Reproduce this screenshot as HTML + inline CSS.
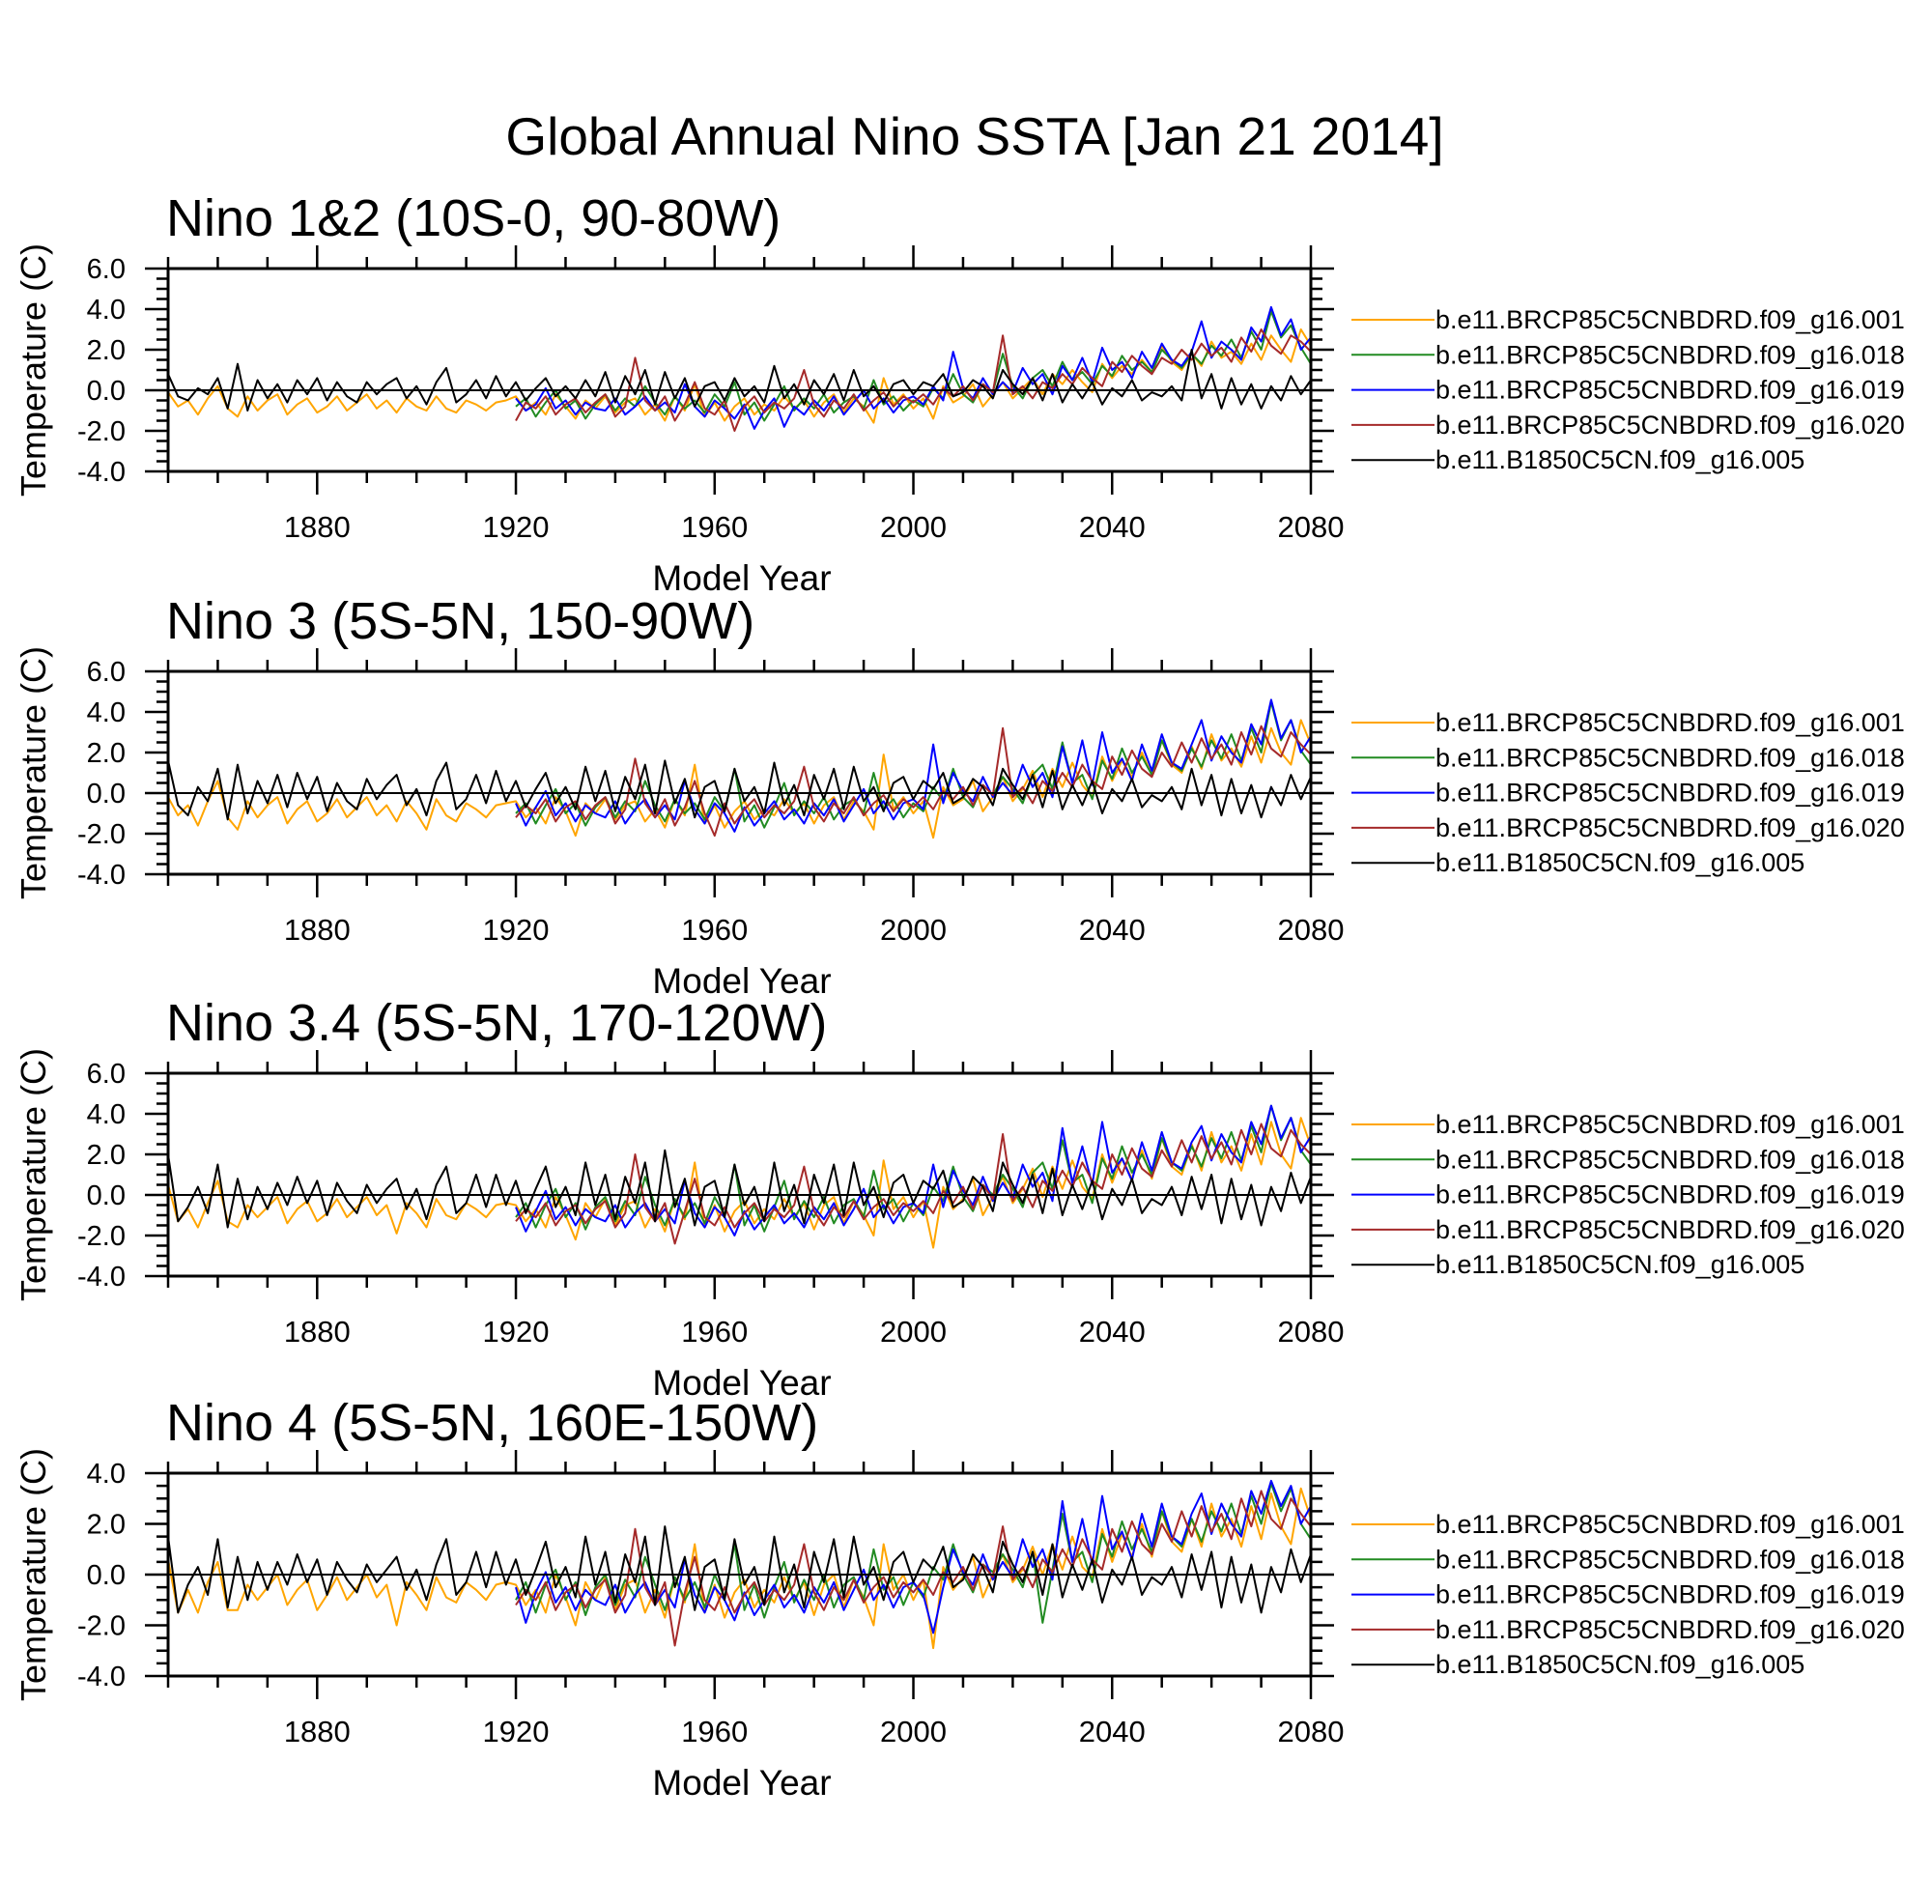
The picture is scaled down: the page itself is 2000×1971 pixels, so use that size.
<!DOCTYPE html>
<html><head><meta charset="utf-8"><style>
html,body{margin:0;padding:0;background:#fff;}
svg{display:block;font-family:"Liberation Sans",sans-serif;}
</style></head><body>
<svg id="chart" width="2000" height="1971" viewBox="0 0 2000 1971" xmlns="http://www.w3.org/2000/svg">
<text x="1009" y="160" font-size="55" text-anchor="middle">Global Annual Nino SSTA [Jan 21 2014]</text>
</svg>
<script>
const years = [1850, 2080];
const stepYears = 2;
const rcpStart = 1920;
const seriesNames = ["b.e11.BRCP85C5CNBDRD.f09_g16.001","b.e11.BRCP85C5CNBDRD.f09_g16.018","b.e11.BRCP85C5CNBDRD.f09_g16.019","b.e11.BRCP85C5CNBDRD.f09_g16.020","b.e11.B1850C5CN.f09_g16.005"];
const seriesColors = ["#ffa500","#228b22","#0000ff","#a52a2a","#000000"];
const panelTitles = ["Nino 1&2 (10S-0, 90-80W)","Nino 3 (5S-5N, 150-90W)","Nino 3.4 (5S-5N, 170-120W)","Nino 4 (5S-5N, 160E-150W)"];
const panelYRanges = [[-4,6],[-4,6],[-4,6],[-4,4]];
const xTickLabels = [1880,1920,1960,2000,2040,2080];

// Panel 1: Nino 1&2
const p1Orange = [-0.1,-0.8,-0.5,-1.2,-0.4,0.2,-0.9,-1.3,-0.3,-1.0,-0.5,-0.2,-1.2,-0.7,-0.4,-1.1,-0.8,-0.3,-1.0,-0.6,-0.2,-0.9,-0.5,-1.1,-0.4,-0.8,-1.0,-0.3,-0.9,-1.1,-0.5,-0.7,-1.0,-0.6,-0.5,
-0.3,-1.0,-0.6,-1.2,-0.2,-0.8,-1.4,-0.5,-0.9,-0.3,-1.1,-0.6,-0.4,-1.2,-0.7,-1.5,-0.3,-1.0,0.3,-1.3,-0.6,-1.5,-0.8,-0.4,-1.2,-0.7,-1.0,-0.3,-0.9,-0.5,-1.3,-0.6,-0.2,-1.1,-0.4,-0.8,-1.6,0.6,-0.7,-0.2,-0.9,
-0.4,-1.4,0.2,-0.6,-0.3,0.3,-0.8,-0.2,0.4,-0.4,0.1,0.6,-0.2,0.8,0.3,1.0,0.4,-0.1,1.3,0.6,1.2,0.8,1.5,0.9,2.2,1.4,1.0,1.8,1.2,2.4,1.6,1.9,1.3,2.3,1.5,2.7,2.0,1.4,3.0,2.2];
const p1Green = [-0.8,-0.4,-1.3,-0.6,0.0,-0.9,-0.5,-1.4,-0.7,-0.2,-1.0,-0.4,-0.8,0.2,-0.6,-1.2,-0.3,-0.9,-0.5,-1.1,-0.2,-0.8,0.4,-1.2,-0.6,-1.5,-0.7,0.2,-1.0,-0.4,-0.9,-0.2,-1.1,-0.6,-0.3,-0.9,0.5,-0.7,-0.3,-1.0,
-0.5,-0.8,0.1,-0.4,0.8,-0.2,-0.6,0.3,-0.1,1.8,0.2,-0.4,0.6,1.0,0.2,1.4,0.5,0.9,0.3,1.2,0.7,1.7,1.0,1.4,0.9,2.0,1.5,1.1,1.8,1.3,2.2,1.7,2.5,1.6,2.9,2.0,3.9,2.6,3.2,2.1,1.3];
const p1Blue = [-0.4,-1.0,-0.7,0.1,-0.9,-0.5,-1.2,-0.6,-0.9,-1.0,-0.4,-1.2,-0.8,-0.3,-1.0,-0.6,-1.1,0.3,-0.8,-1.3,-0.5,-0.9,-1.4,-0.7,-1.9,-1.0,-0.4,-1.8,-0.8,-1.2,-0.5,-1.0,-0.3,-1.2,-0.6,0.0,-0.9,-0.4,-1.1,-0.5,
-0.3,-0.7,0.2,-0.5,1.9,0.1,-0.4,0.6,-0.2,0.4,-0.1,1.1,0.3,0.8,-0.2,1.2,0.5,1.6,0.4,2.1,1.0,1.4,0.6,1.9,1.1,2.3,1.5,1.2,1.9,3.4,1.6,2.4,2.0,1.5,3.1,2.4,4.1,2.7,3.5,2.0,2.6];
const p1Red = [-1.5,-0.6,-0.9,-0.3,-1.2,-0.7,-0.4,-1.1,-0.6,-0.2,-1.3,-0.8,1.6,-0.5,-1.0,-0.3,-1.5,-0.7,0.4,-0.9,-1.2,-0.5,-2.0,-0.8,-0.3,-1.1,-0.6,-0.9,-0.4,1.0,-0.7,-1.3,-0.5,-0.9,-0.2,-1.0,-0.5,-0.1,-0.8,-0.3,
-0.6,-0.2,-0.7,0.1,-0.3,0.2,-0.5,0.3,-0.1,2.7,-0.2,0.2,-0.4,0.4,0.1,0.8,0.3,1.1,0.6,0.2,1.4,0.9,1.7,1.2,0.8,1.6,1.3,2.0,1.5,2.3,1.7,2.1,1.4,2.6,1.9,3.0,2.2,1.8,2.7,2.4,1.9];
const p1Black = [0.8,-0.3,-0.5,0.1,-0.2,0.6,-0.9,1.3,-1.0,0.5,-0.4,0.3,-0.6,0.5,-0.2,0.6,-0.5,0.4,-0.3,-0.6,0.4,-0.2,0.3,0.6,-0.4,0.2,-0.7,0.4,1.1,-0.6,-0.2,0.5,-0.4,0.7,-0.3,0.4,-0.5,0.1,0.6,-0.3,
0.2,-0.4,0.5,-0.3,0.9,-0.6,0.7,-0.2,1.0,-0.7,0.9,-0.4,0.6,-0.8,0.2,0.4,-0.5,0.6,-0.3,0.2,-0.6,1.2,-0.4,0.3,-0.7,0.5,-0.2,0.8,-0.5,1.0,-0.3,0.2,-0.6,0.3,0.5,-0.2,0.4,0.2,0.8,-0.3,
-0.1,0.5,0.2,-0.4,1.0,0.3,-0.2,0.6,-0.5,0.8,-0.6,0.3,-0.4,0.4,-0.7,0.1,-0.3,0.5,-0.5,-0.1,-0.3,0.2,-0.5,2.0,-0.4,0.8,-0.9,0.6,-0.7,0.3,-0.9,0.2,-0.5,0.7,-0.2,0.5];

// Panel 2: Nino 3
const p2Orange = [-0.2,-1.1,-0.6,-1.6,-0.4,0.6,-1.2,-1.8,-0.4,-1.2,-0.6,-0.2,-1.5,-0.8,-0.4,-1.4,-1.0,-0.3,-1.2,-0.7,-0.2,-1.1,-0.6,-1.4,-0.4,-1.0,-1.8,-0.3,-1.1,-1.4,-0.5,-0.8,-1.2,-0.6,-0.5,
-0.4,-1.2,-0.7,-1.5,-0.2,-0.9,-2.1,-0.5,-1.0,-0.3,-1.3,-0.6,-0.4,-1.4,-0.8,-1.7,-0.3,-1.1,1.4,-1.5,-0.6,-1.7,-0.9,-0.4,-1.3,-0.8,-1.1,-0.3,-1.0,-0.5,-1.5,-0.6,-0.2,-1.3,-0.4,-0.9,-1.8,1.9,-0.8,-0.2,-1.0,
-0.4,-2.2,0.3,-0.6,-0.3,0.6,-0.9,-0.2,0.8,-0.4,0.2,1.1,-0.2,1.2,0.3,1.5,0.4,-0.2,1.8,0.6,1.6,0.8,2.0,0.9,2.6,1.4,1.0,2.3,1.2,2.9,1.6,2.2,1.3,2.8,1.5,3.2,2.0,1.4,3.6,2.4];
const p2Green = [-1.0,-0.5,-1.5,-0.6,0.2,-1.0,-0.5,-1.6,-0.7,-0.2,-1.2,-0.4,-0.9,0.6,-0.6,-1.4,-0.3,-1.0,-0.5,-1.3,-0.2,-0.9,1.2,-1.4,-0.6,-1.7,-0.7,0.5,-1.1,-0.4,-1.0,-0.2,-1.3,-0.6,-0.3,-1.0,1.0,-0.8,-0.3,-1.2,
-0.5,-0.9,0.3,-0.4,1.2,-0.2,-0.7,0.4,-0.1,0.8,0.2,-0.5,0.9,1.4,0.2,2.5,0.5,0.9,-0.3,1.6,0.7,2.2,1.0,1.8,0.9,2.6,1.5,1.1,2.2,1.3,2.6,1.7,2.9,1.6,3.2,2.0,4.5,2.6,3.6,2.1,1.4];
const p2Blue = [-0.5,-1.6,-0.7,0.1,-1.1,-0.5,-1.4,-0.6,-1.0,-1.2,-0.4,-1.5,-0.8,-0.3,-1.2,-0.6,-1.3,0.6,-0.8,-1.5,-0.5,-1.0,-1.9,-0.7,-1.6,-1.0,-0.4,-1.3,-0.8,-1.5,-0.5,-1.1,-0.3,-1.4,-0.6,0.2,-1.0,-0.4,-1.3,-0.5,
-0.3,-0.8,2.4,-0.5,1.0,0.1,-0.4,0.8,-0.2,0.5,-0.1,1.4,0.3,1.0,-0.2,2.3,0.5,2.6,0.4,3.0,1.0,1.7,0.6,2.4,1.1,2.9,1.5,1.2,2.4,3.6,1.6,2.8,2.0,1.5,3.4,2.4,4.6,2.7,3.6,2.0,2.8];
const p2Red = [-1.2,-0.6,-1.0,-0.3,-1.4,-0.7,-0.4,-1.3,-0.6,-0.2,-1.5,-0.8,1.7,-0.5,-1.2,-0.3,-1.6,-0.7,0.6,-1.0,-2.1,-0.5,-1.5,-0.8,-0.3,-1.2,-0.6,-1.0,-0.4,1.3,-0.7,-1.4,-0.5,-1.0,-0.2,-1.1,-0.5,-0.1,-0.9,-0.3,
-0.7,-0.2,-0.8,0.1,-0.3,0.3,-0.6,0.4,-0.1,3.2,-0.2,0.3,-0.5,0.6,0.1,1.0,0.3,1.4,0.6,0.2,1.8,0.9,2.1,1.2,0.8,2.0,1.3,2.5,1.5,2.7,1.7,2.4,1.4,3.0,1.9,3.3,2.2,1.8,3.0,2.4,1.9];
const p2Black = [1.6,-0.6,-1.1,0.3,-0.4,1.2,-1.3,1.4,-1.0,0.6,-0.5,0.9,-0.7,1.0,-0.3,0.8,-0.9,0.5,-0.4,-0.8,0.7,-0.3,0.4,0.9,-0.6,0.2,-1.1,0.6,1.5,-0.8,-0.3,0.9,-0.5,1.1,-0.4,0.6,-0.7,0.2,1.0,-0.5,
0.3,-0.8,1.3,-0.4,1.1,-0.9,0.8,-0.3,1.4,-1.0,1.6,-0.5,0.7,-1.2,0.3,0.6,-0.9,1.2,-0.4,0.3,-1.0,1.5,-0.6,0.4,-1.1,0.9,-0.3,1.2,-0.8,1.3,-0.4,0.3,-0.9,0.5,0.8,-0.3,0.6,0.2,1.0,-0.5,
-0.2,0.7,0.3,-0.6,1.2,0.4,-0.3,0.9,-0.7,1.1,-0.8,0.4,-0.6,0.6,-1.0,0.2,-0.4,0.7,-0.7,-0.1,-0.4,0.3,-0.8,1.2,-0.6,0.9,-1.1,0.7,-1.0,0.4,-1.2,0.3,-0.6,0.9,-0.3,0.8];

// Panel 3: Nino 3.4
const p3Orange = [0.5,-1.3,-0.7,-1.6,-0.4,0.7,-1.3,-1.6,-0.5,-1.1,-0.6,-0.1,-1.4,-0.7,-0.3,-1.3,-0.9,-0.2,-1.1,-0.6,-0.1,-1.0,-0.5,-1.9,-0.4,-0.9,-1.6,-0.2,-1.0,-1.2,-0.4,-0.7,-1.1,-0.5,-0.4,
-0.5,-1.3,-0.7,-1.6,-0.1,-1.0,-2.2,-0.4,-1.1,-0.2,-1.5,-0.5,-0.3,-1.6,-0.7,-1.8,-0.2,-1.2,1.6,-1.6,-0.5,-1.8,-0.8,-0.3,-1.4,-0.7,-1.2,-0.2,-1.1,-0.4,-1.7,-0.5,-0.1,-1.4,-0.3,-1.0,-2.0,1.7,-0.7,-0.1,-1.1,
-0.3,-2.6,0.4,-0.7,-0.2,0.8,-1.0,-0.1,0.9,-0.4,0.3,1.3,-0.1,1.4,0.3,1.7,0.4,-0.2,2.0,0.6,1.8,0.8,2.2,0.8,2.8,1.4,1.0,2.5,1.2,3.1,1.6,2.4,1.2,3.0,1.5,3.6,2.0,1.3,3.8,2.4];
const p3Green = [-1.1,-0.4,-1.6,-0.5,0.3,-1.1,-0.4,-1.7,-0.6,-0.1,-1.3,-0.3,-1.0,0.9,-0.5,-1.5,-0.2,-1.1,-0.4,-1.4,-0.1,-1.0,1.5,-1.5,-0.5,-1.8,-0.6,0.7,-1.2,-0.3,-1.1,-0.1,-1.4,-0.5,-0.2,-1.1,1.2,-0.7,-0.2,-1.3,
-0.4,-1.0,0.4,-0.3,1.4,-0.1,-0.8,0.5,0.0,1.0,0.3,-0.6,1.1,1.6,0.3,2.7,0.6,1.0,-0.4,1.8,0.8,2.4,1.1,2.0,1.0,2.8,1.6,1.2,2.4,1.4,2.8,1.8,3.1,1.7,3.4,2.1,4.4,2.7,3.8,2.2,1.5];
const p3Blue = [-0.6,-1.8,-0.8,0.2,-1.2,-0.6,-1.5,-0.7,-1.1,-1.3,-0.5,-1.6,-0.9,-0.4,-1.3,-0.7,-1.4,0.7,-0.9,-1.6,-0.6,-1.1,-2.0,-0.8,-1.7,-1.1,-0.5,-1.4,-0.9,-1.6,-0.6,-1.2,-0.4,-1.5,-0.7,0.3,-1.1,-0.5,-1.4,-0.6,
-0.4,-0.9,1.5,-0.6,1.2,0.2,-0.5,0.9,-0.3,0.6,-0.2,1.5,0.4,1.1,-0.3,3.3,0.6,2.4,0.5,3.6,1.1,1.8,0.7,2.6,1.2,3.1,1.6,1.3,2.6,3.4,1.7,3.0,2.1,1.6,3.6,2.5,4.4,2.8,3.8,2.1,2.9];
const p3Red = [-1.3,-0.7,-1.1,-0.4,-1.5,-0.8,-0.5,-1.4,-0.7,-0.3,-1.6,-0.9,2.0,-0.6,-1.3,-0.4,-2.4,-0.8,0.8,-1.1,-1.5,-0.6,-1.6,-0.9,-0.4,-1.3,-0.7,-1.1,-0.5,1.4,-0.8,-1.5,-0.6,-1.1,-0.3,-1.2,-0.6,-0.2,-1.0,-0.4,
-0.8,-0.3,-0.9,0.2,-0.4,0.4,-0.7,0.5,-0.2,3.0,-0.3,0.4,-0.6,0.7,0.2,1.2,0.4,1.6,0.7,0.3,2.0,1.0,2.3,1.3,0.9,2.2,1.4,2.7,1.6,2.9,1.8,2.6,1.5,3.2,2.0,3.5,2.3,1.9,3.2,2.5,2.0];
const p3Black = [2.0,-1.3,-0.6,0.4,-0.9,1.5,-1.6,0.8,-1.2,0.4,-0.7,0.6,-0.5,0.9,-0.4,0.7,-1.0,0.6,-0.3,-0.9,0.5,-0.4,0.3,0.8,-0.7,0.3,-1.2,0.5,1.4,-0.9,-0.4,1.0,-0.6,1.0,-0.5,0.7,-0.9,0.3,1.4,-0.6,
0.4,-1.0,1.6,-0.5,1.0,-1.2,0.9,-0.4,1.6,-1.3,2.2,-0.6,0.8,-1.5,0.4,0.7,-1.1,1.5,-0.5,0.4,-1.3,1.6,-0.8,0.5,-1.4,1.0,-0.4,1.5,-1.0,1.6,-0.5,0.4,-1.1,0.6,1.0,-0.4,0.7,0.3,1.2,-0.6,
-0.3,0.9,0.4,-0.8,1.6,0.5,-0.4,1.0,-0.9,1.3,-1.0,0.5,-0.7,0.7,-1.2,0.3,-0.5,0.8,-0.9,-0.2,-0.5,0.4,-1.0,0.9,-0.7,1.0,-1.4,0.8,-1.2,0.5,-1.5,0.4,-0.8,1.1,-0.4,0.9];

// Panel 4: Nino 4
const p4Orange = [0.6,-1.5,-0.6,-1.5,-0.3,0.5,-1.4,-1.4,-0.4,-1.0,-0.5,0.0,-1.2,-0.6,-0.2,-1.4,-0.8,-0.1,-1.0,-0.5,0.0,-0.9,-0.4,-2.0,-0.3,-0.8,-1.4,-0.1,-0.9,-1.1,-0.3,-0.6,-1.0,-0.4,-0.3,
-0.4,-1.2,-0.6,-1.5,0.0,-0.9,-2.0,-0.3,-1.0,-0.1,-1.4,-0.4,-0.2,-1.5,-0.6,-1.7,-0.1,-1.1,1.2,-1.5,-0.4,-1.7,-0.7,-0.2,-1.3,-0.6,-1.1,-0.1,-1.0,-0.3,-1.6,-0.4,0.0,-1.3,-0.2,-0.9,-2.0,1.2,-0.6,0.0,-1.0,
-0.2,-2.9,0.3,-0.6,-0.1,0.7,-0.9,0.0,0.8,-0.3,0.2,1.1,0.0,1.2,0.2,1.5,0.3,-0.1,1.8,0.5,1.6,0.7,2.0,0.7,2.5,1.3,0.9,2.2,1.1,2.8,1.5,2.2,1.1,2.7,1.4,3.2,1.9,1.2,3.4,2.2];
const p4Green = [-1.0,-0.3,-1.5,-0.4,0.2,-1.0,-0.3,-1.6,-0.5,0.0,-1.2,-0.2,-0.9,0.7,-0.4,-1.4,-0.1,-1.0,-0.3,-1.3,0.0,-0.9,1.2,-1.4,-0.4,-1.7,-0.5,0.5,-1.1,-0.2,-1.0,0.0,-1.3,-0.4,-0.1,-1.0,1.0,-0.6,-0.1,-1.2,
-0.3,-0.9,0.3,-0.2,1.2,0.0,-0.7,0.4,0.1,0.8,0.2,-0.5,0.9,-1.9,0.2,2.4,0.5,0.9,-0.3,1.6,0.7,2.1,1.0,1.8,0.9,2.5,1.5,1.1,2.2,1.3,2.5,1.7,2.8,1.6,3.1,2.0,3.6,2.5,3.4,2.0,1.4];
const p4Blue = [-0.5,-1.9,-0.7,0.1,-1.1,-0.5,-1.4,-0.6,-1.0,-1.2,-0.4,-1.5,-0.8,-0.3,-1.2,-0.6,-1.3,0.6,-0.8,-1.5,-0.5,-1.0,-1.8,-0.7,-1.6,-1.0,-0.4,-1.3,-0.8,-1.5,-0.5,-1.1,-0.3,-1.4,-0.6,0.2,-1.0,-0.4,-1.3,-0.5,
-0.3,-0.8,-2.3,-0.5,1.0,0.1,-0.4,0.8,-0.2,0.5,-0.1,1.4,0.3,1.0,-0.2,2.9,0.5,2.2,0.4,3.1,1.0,1.7,0.6,2.4,1.1,2.8,1.5,1.2,2.4,3.2,1.6,2.8,2.0,1.5,3.3,2.4,3.7,2.7,3.5,2.0,2.7];
const p4Red = [-1.2,-0.6,-1.0,-0.3,-1.4,-0.7,-0.4,-1.3,-0.6,-0.2,-1.5,-0.8,1.8,-0.5,-1.2,-0.3,-2.8,-0.7,0.7,-1.0,-1.4,-0.5,-1.5,-0.8,-0.3,-1.2,-0.6,-1.0,-0.4,1.2,-0.7,-1.4,-0.5,-1.0,-0.2,-1.1,-0.5,-0.1,-0.9,-0.3,
-0.7,-0.2,-0.8,0.1,-0.3,0.3,-0.6,0.4,-0.1,1.9,-0.2,0.3,-0.5,0.6,0.1,1.0,0.3,1.4,0.6,0.2,1.8,0.9,2.1,1.2,0.8,2.0,1.3,2.5,1.5,2.7,1.7,2.4,1.4,3.0,1.9,3.3,2.2,1.8,3.0,2.4,1.9];
const p4Black = [1.5,-1.5,-0.4,0.3,-0.8,1.4,-1.3,0.7,-1.0,0.5,-0.6,0.5,-0.4,0.8,-0.3,0.6,-0.8,0.5,-0.2,-0.7,0.4,-0.3,0.2,0.7,-0.6,0.2,-1.0,0.4,1.4,-0.8,-0.3,0.9,-0.5,0.9,-0.4,0.6,-0.8,0.2,1.3,-0.5,
0.3,-0.9,1.5,-0.4,0.9,-1.1,0.8,-0.3,1.5,-1.2,1.9,-0.5,0.7,-1.4,0.3,0.6,-1.0,1.4,-0.4,0.3,-1.2,1.5,-0.7,0.4,-1.3,0.9,-0.3,1.4,-0.9,1.5,-0.4,0.3,-1.0,0.5,0.9,-0.3,0.6,0.2,1.1,-0.5,
-0.2,0.8,0.3,-0.7,1.3,0.4,-0.3,0.9,-0.8,1.2,-0.9,0.4,-0.6,0.6,-1.1,0.2,-0.4,0.7,-0.8,-0.1,-0.4,0.3,-0.9,0.8,-0.6,0.9,-1.3,0.7,-1.1,0.4,-1.5,0.3,-0.7,1.0,-0.3,0.8];

const panelSeries = [
  [p1Orange,p1Green,p1Blue,p1Red,p1Black],
  [p2Orange,p2Green,p2Blue,p2Red,p2Black],
  [p3Orange,p3Green,p3Blue,p3Red,p3Black],
  [p4Orange,p4Green,p4Blue,p4Red,p4Black]
];
const seriesStart = [1850, rcpStart, rcpStart, rcpStart, 1850];

const NS = "http://www.w3.org/2000/svg";
const svg = document.getElementById("chart");
const L = 174, R = 1357, H = 210;
const panelTops = [278, 695, 1111, 1525];
function mk(tag, attrs, parent){
  const e = document.createElementNS(NS, tag);
  for (const k in attrs) e.setAttribute(k, attrs[k]);
  (parent || svg).appendChild(e);
  return e;
}
function xScale(yr){ return L + (yr - years[0]) / (years[1] - years[0]) * (R - L); }

panelTitles.forEach((title, p) => {
  const top = panelTops[p], bot = top + H;
  const [ymin, ymax] = panelYRanges[p];
  const yScale = v => bot - (v - ymin) / (ymax - ymin) * H;
  const g = mk("g", {});
  
  

  const t = mk("text", {x: 172, y: top - 34, "font-size": 54}, g);
  t.textContent = title;
  
  

  const sg = mk("g", {fill: "none", "stroke-width": 2, "stroke-linejoin": "round"}, g);
  panelSeries[p].forEach((arr, s) => {
    const pts = arr.map((v, i) => xScale(seriesStart[s] + i * stepYears).toFixed(1) + "," + yScale(v).toFixed(1)).join(" ");
    const pl = mk("polyline", {points: pts, stroke: seriesColors[s]}, sg);
    
    
  });

  const z = mk("line", {x1: L, x2: R, y1: yScale(0), y2: yScale(0), stroke: "#000", "stroke-width": 2}, g);
  
  

  const fr = mk("rect", {x: L, y: top, width: R - L, height: H, fill: "none", stroke: "#000", "stroke-width": 3}, g);
  
  

  const tk = mk("g", {stroke: "#000", "stroke-width": 2.5}, g);
  for (let yr = 1850; yr <= 2080; yr += 10) {
    const major = (yr - 1880) % 40 === 0;
    const len = major ? 24 : 12;
    const x = xScale(yr);
    mk("line", {x1: x, x2: x, y1: top, y2: top - len}, tk);
    mk("line", {x1: x, x2: x, y1: bot, y2: bot + len}, tk);
  }
  for (let v = ymin; v <= ymax + 1e-9; v += 0.5) {
    const major = Math.abs(v / 2 - Math.round(v / 2)) < 1e-9;
    const len = major ? 24 : 12;
    const y = yScale(v);
    mk("line", {x1: L, x2: L - len, y1: y, y2: y}, tk);
    mk("line", {x1: R, x2: R + len, y1: y, y2: y}, tk);
  }
  xTickLabels.forEach(yr => {
    const tl = mk("text", {x: xScale(yr), y: top + 278, "font-size": 31, "text-anchor": "middle"}, g);
    tl.textContent = yr;
    
    
  });
  for (let v = ymin; v <= ymax; v += 2) {
    const tl = mk("text", {x: 130, y: yScale(v) + 10, "font-size": 29, "text-anchor": "end"}, g);
    tl.textContent = v.toFixed(1);
    
    
  }
  const xt = mk("text", {x: 768, y: top + 333, "font-size": 37, "text-anchor": "middle"}, g);
  xt.textContent = "Model Year";
  
  
  const cy = top + H / 2;
  const yt = mk("text", {x: 47, y: cy, "font-size": 36, "text-anchor": "middle", transform: "rotate(-90 47 " + cy + ")"}, g);
  yt.textContent = "Temperature (C)";
  
  

  seriesNames.forEach((nm, s) => {
    const ly = top + 53 + s * 36.3;
    const lg = mk("g", {}, g);
    
    
    mk("line", {x1: 1399, x2: 1485, y1: ly, y2: ly, stroke: seriesColors[s], "stroke-width": 2}, lg);
    const lt = mk("text", {x: 1486, y: ly + 9, "font-size": 27}, lg);
    lt.textContent = nm;
  });
});
</script>
</body></html>
